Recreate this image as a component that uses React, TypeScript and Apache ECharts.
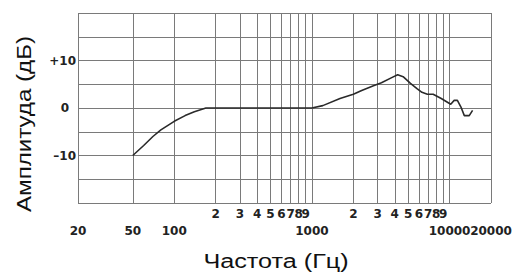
import React, { useEffect, useRef } from "react";
import * as echarts from "echarts";

// Frequency response (Hz -> dB)
const FREQ = [50, 60, 70, 80, 100, 120, 140, 170, 200, 500, 1000, 1200, 1600, 2000, 2300, 2800, 3200, 3800, 4200, 4600, 5200, 5800, 6300, 6900, 7600, 8700, 10200, 10800, 11400, 12100, 12800, 13900, 14700];
const DB = [-10, -7.9, -6.0, -4.6, -2.8, -1.6, -0.8, 0, 0, 0, 0, 0.5, 2.0, 2.9, 3.7, 4.7, 5.3, 6.4, 7.0, 6.6, 5.2, 4.1, 3.3, 2.9, 2.9, 2.0, 0.8, 1.6, 1.6, 0.2, -1.6, -1.6, -0.5];

// grid lines (Hz)
const GRID_FREQ = [20, 50, 100, 200, 300, 400, 500, 600, 700, 800, 900, 1000, 2000, 3000, 4000, 5000, 6000, 7000, 8000, 9000, 10000, 20000];
// labelled frequencies (split in groups so that close labels are never auto-hidden)
const MAIN_LABELS_A = [20, 100, 10000];
const MAIN_LABELS_B = [50, 1000, 20000];
const DIGIT_LABELS_A = [200, 400, 600, 800, 2000, 4000, 6000, 8000];
const DIGIT_LABELS_B = [300, 500, 700, 900, 3000, 5000, 7000, 9000];
const Y_LABELS: Record<string, string> = { "10": "+10", "0": "0", "-10": "–10" };

const X_TITLE = "Частота (Гц)";
const Y_TITLE = "Амплитуда (дБ)";

const lg = (v: number) => Math.log10(v);

export default function App() {
  const ref = useRef<HTMLDivElement>(null);
  useEffect(() => {
    if (!ref.current) return;
    const chart = echarts.init(ref.current, undefined, { renderer: "svg" });
    const labelFont = {
      fontFamily: "DejaVu Sans",
      fontWeight: "bold" as const,
      fontSize: 12,
      color: "#222",
    };
    const labelAxis = (vals: number[], margin: number, digit: boolean) => ({
      type: "value",
      min: lg(20),
      max: lg(20000),
      position: "bottom",
      axisLine: { show: false },
      axisTick: { show: false, customValues: vals.map(lg) },
      splitLine: { show: false },
      axisLabel: {
        customValues: vals.map(lg),
        margin,
        hideOverlap: false,
        showMinLabel: true,
        showMaxLabel: true,
        ...labelFont,
        formatter: (v: number) => {
          const s = String(Math.round(Math.pow(10, v)));
          return digit ? s[0] : s;
        },
      },
    });
    chart.setOption({
      animation: false,
      backgroundColor: "#fff",
      grid: { left: 78, right: 35, top: 13, bottom: 70, containLabel: false },
      xAxis: [
        {
          type: "value",
          min: lg(20),
          max: lg(20000),
          position: "bottom",
          axisLine: { show: false },
          axisTick: { show: false, customValues: GRID_FREQ.map(lg) },
          splitLine: { show: true, lineStyle: { color: "#7a7a7a", width: 1 } },
          axisLabel: { show: false },
        },
        labelAxis(MAIN_LABELS_A, 22, false),
        labelAxis(MAIN_LABELS_B, 22, false),
        labelAxis(DIGIT_LABELS_A, 5, true),
        labelAxis(DIGIT_LABELS_B, 5, true),
      ],
      yAxis: {
        type: "value",
        min: -20,
        max: 20,
        interval: 5,
        axisLine: { show: false },
        axisTick: { show: false },
        splitLine: { show: true, lineStyle: { color: "#7a7a7a", width: 1 } },
        axisLabel: {
          margin: 2,
          ...labelFont,
          formatter: (v: number) => {
            const s = Y_LABELS[String(v)];
            if (!s) return "";
            return v === 0 ? "{z|0}" : s;
          },
          rich: { z: { ...labelFont, padding: [0, 7, 0, 0] } },
        },
      },
      series: [
        {
          type: "line",
          xAxisIndex: 0,
          data: FREQ.map((f, i) => [lg(f), DB[i]]),
          showSymbol: false,
          smooth: false,
          lineStyle: { color: "#2a2a2a", width: 1.6 },
        },
      ],
      graphic: [
        {
          type: "text",
          x: 276,
          y: 261,
          scaleX: 1.2,
          style: {
            text: X_TITLE,
            fontFamily: "Liberation Sans",
            fontSize: 21,
            fill: "#111",
            align: "center",
            verticalAlign: "middle",
          },
        },
        {
          type: "text",
          x: 24,
          y: 124,
          rotation: Math.PI / 2,
          scaleX: 1.15,
          style: {
            text: Y_TITLE,
            fontFamily: "Liberation Sans",
            fontSize: 21,
            fill: "#111",
            align: "center",
            verticalAlign: "middle",
          },
        },
      ],
    });
    return () => chart.dispose();
  }, []);
  return (
    <div
      ref={ref}
      style={{ position: "fixed", left: 0, top: 0, width: 526, height: 273 }}
    />
  );
}
